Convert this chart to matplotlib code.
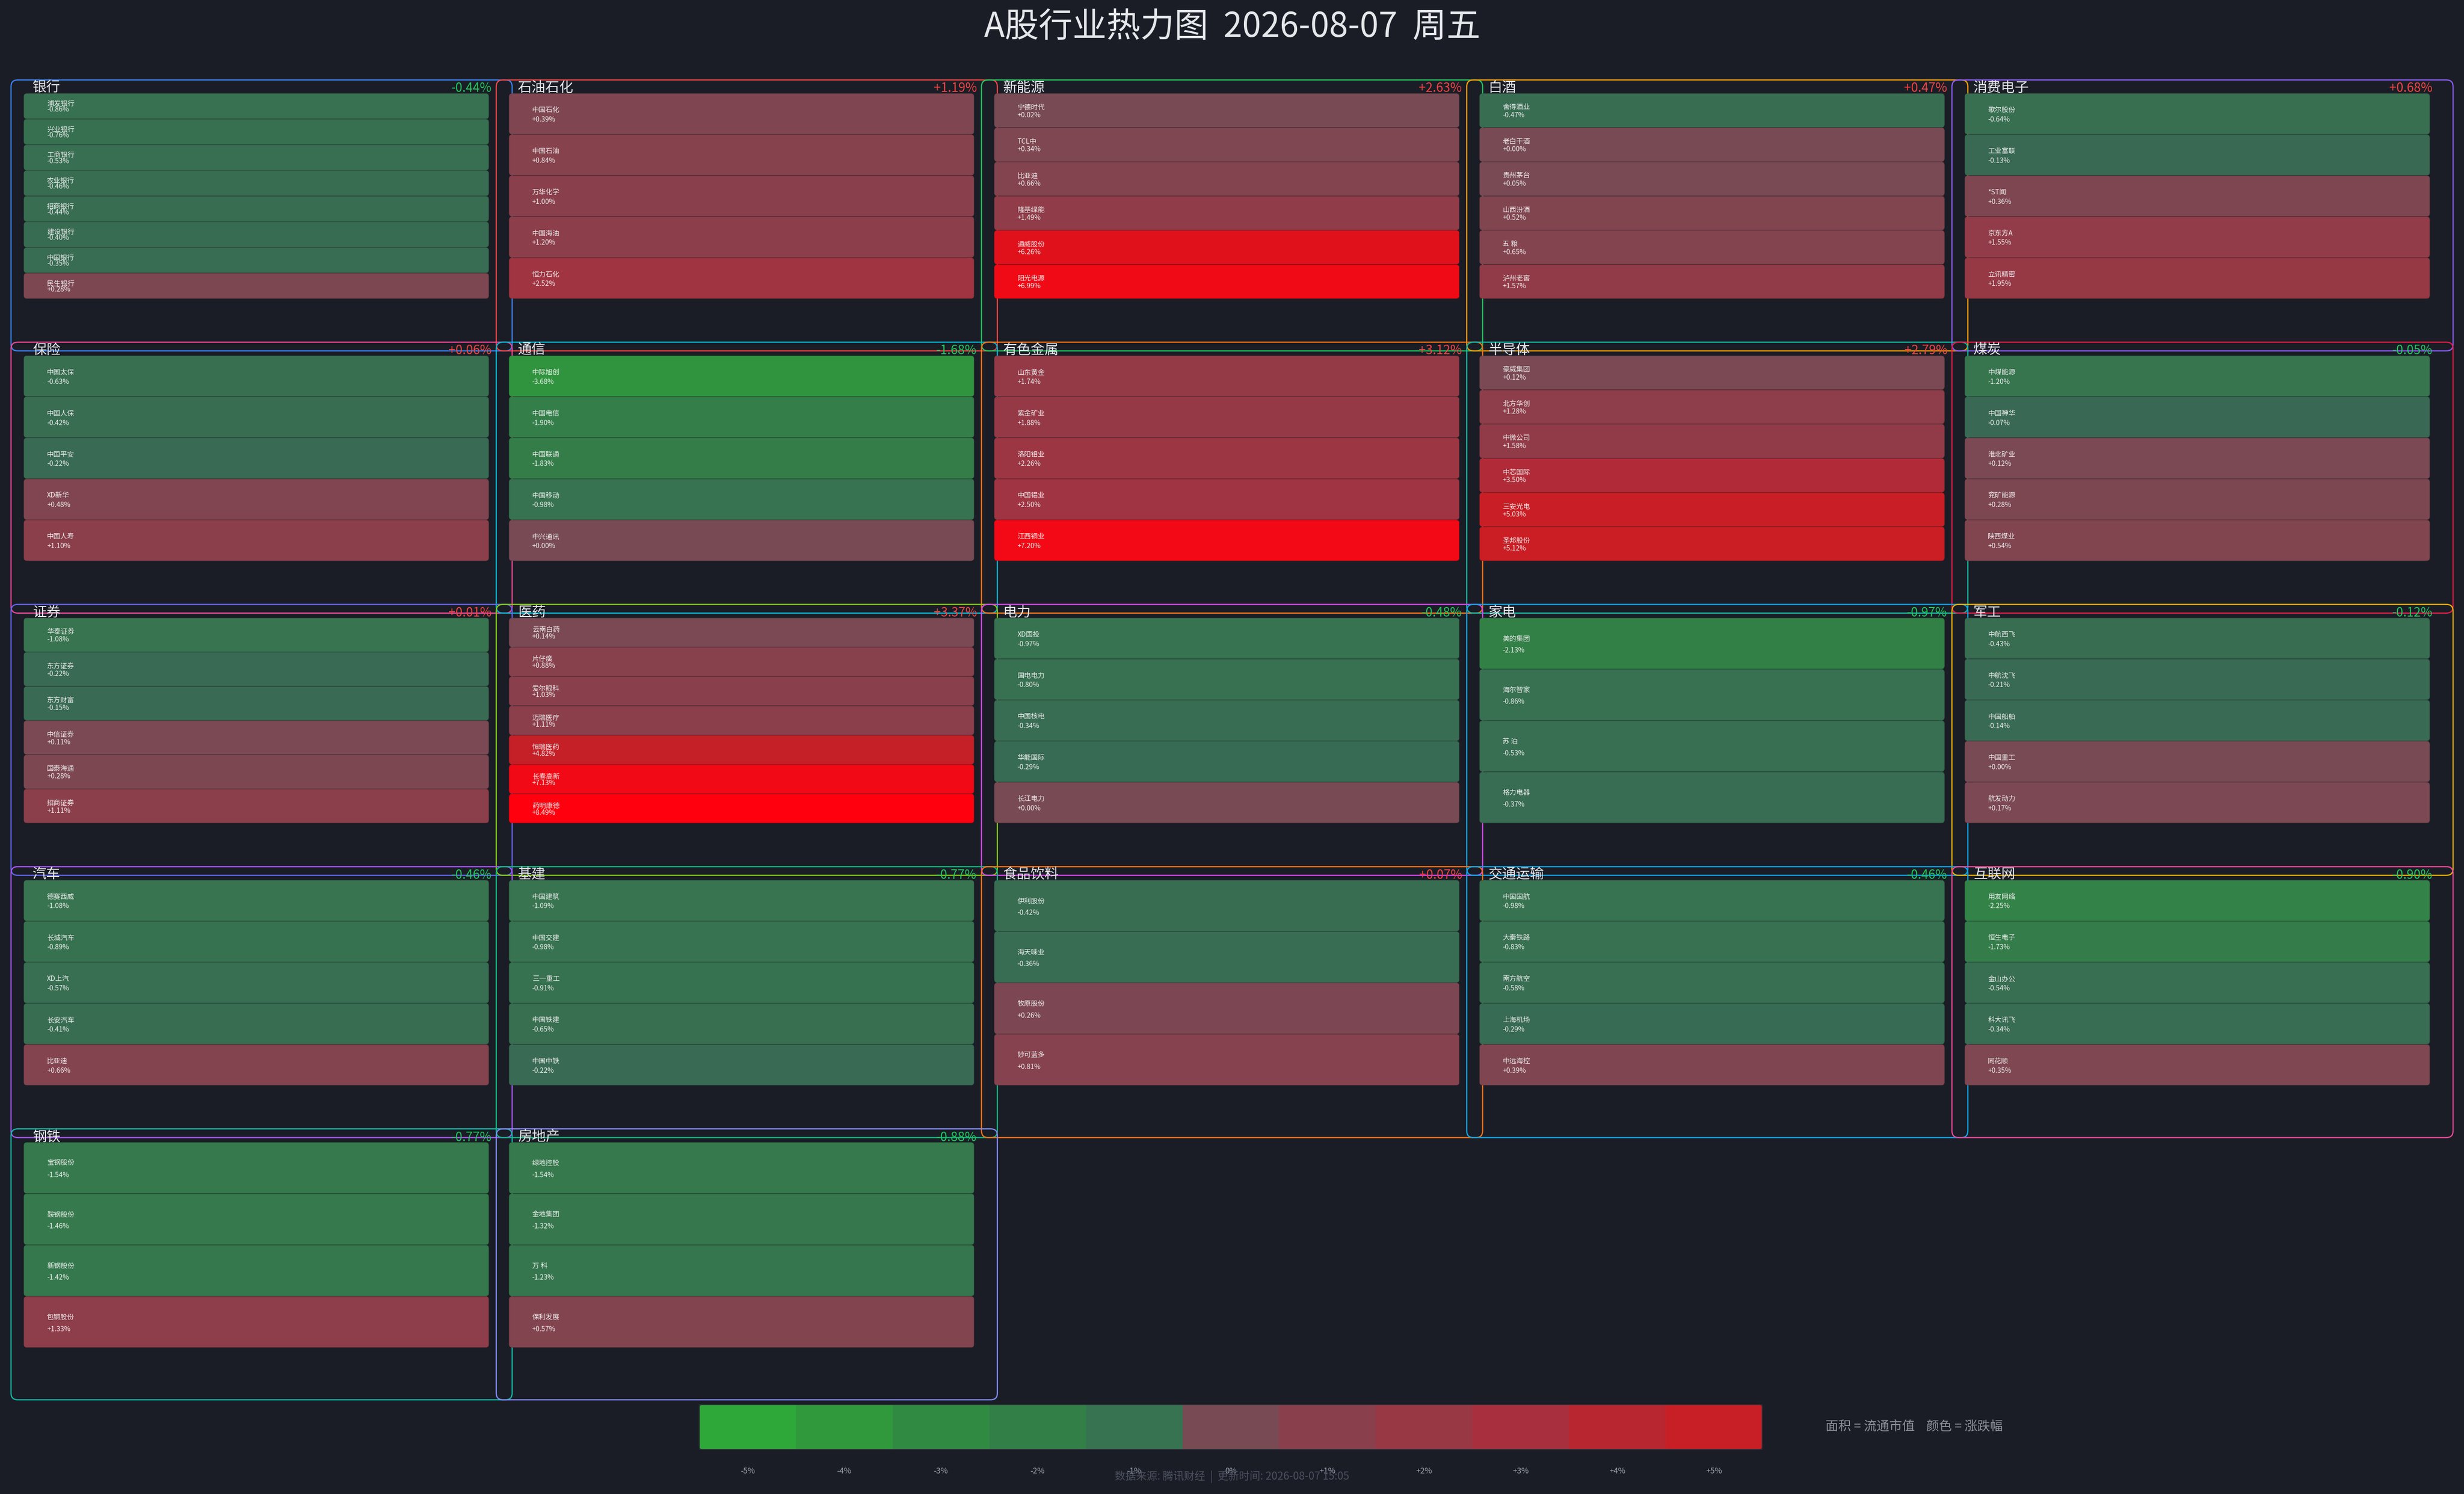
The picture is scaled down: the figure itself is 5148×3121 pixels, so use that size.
import matplotlib
matplotlib.use('Agg')
import matplotlib.pyplot as plt
from matplotlib.patches import FancyBboxPatch, Rectangle
import numpy as np

plt.rcParams['font.family'] = ['Noto Sans CJK SC', 'DejaVu Sans']

# ---------------- data ----------------
TITLE = 'A股行业热力图  2026-08-07  周五'

SECTORS = ['银行', '石油石化', '新能源', '白酒', '消费电子',
           '保险', '通信', '有色金属', '半导体', '煤炭',
           '证券', '医药', '电力', '家电', '军工',
           '汽车', '基建', '食品饮料', '交通运输', '互联网',
           '钢铁', '房地产']

SECTOR_PCT = [-0.44, 1.19, 2.63, 0.47, 0.68,
              0.06, -1.68, 3.12, 2.79, -0.05,
              0.01, 3.37, -0.48, -0.97, -0.12,
              -0.46, -0.77, 0.07, -0.46, -0.90,
              -0.77, -0.88]

STOCKS = [
    ['浦发银行', '兴业银行', '工商银行', '农业银行', '招商银行', '建设银行', '中国银行', '民生银行'],
    ['中国石化', '中国石油', '万华化学', '中国海油', '恒力石化'],
    ['宁德时代', 'TCL中', '比亚迪', '隆基绿能', '通威股份', '阳光电源'],
    ['舍得酒业', '老白干酒', '贵州茅台', '山西汾酒', '五 粮', '泸州老窖'],
    ['歌尔股份', '工业富联', '*ST闻', '京东方A', '立讯精密'],
    ['中国太保', '中国人保', '中国平安', 'XD新华', '中国人寿'],
    ['中际旭创', '中国电信', '中国联通', '中国移动', '中兴通讯'],
    ['山东黄金', '紫金矿业', '洛阳钼业', '中国铝业', '江西铜业'],
    ['豪威集团', '北方华创', '中微公司', '中芯国际', '三安光电', '圣邦股份'],
    ['中煤能源', '中国神华', '淮北矿业', '兖矿能源', '陕西煤业'],
    ['华泰证券', '东方证券', '东方财富', '中信证券', '国泰海通', '招商证券'],
    ['云南白药', '片仔癀', '爱尔眼科', '迈瑞医疗', '恒瑞医药', '长春高新', '药明康德'],
    ['XD国投', '国电电力', '中国核电', '华能国际', '长江电力'],
    ['美的集团', '海尔智家', '苏 泊', '格力电器'],
    ['中航西飞', '中航沈飞', '中国船舶', '中国重工', '航发动力'],
    ['德赛西威', '长城汽车', 'XD上汽', '长安汽车', '比亚迪'],
    ['中国建筑', '中国交建', '三一重工', '中国铁建', '中国中铁'],
    ['伊利股份', '海天味业', '牧原股份', '妙可蓝多'],
    ['中国国航', '大秦铁路', '南方航空', '上海机场', '中远海控'],
    ['用友网络', '恒生电子', '金山办公', '科大讯飞', '同花顺'],
    ['宝钢股份', '鞍钢股份', '新钢股份', '包钢股份'],
    ['绿地控股', '金地集团', '万 科', '保利发展'],
]

STOCK_PCT = [
    [-0.86, -0.76, -0.53, -0.46, -0.44, -0.40, -0.35, 0.28],
    [0.39, 0.84, 1.00, 1.20, 2.52],
    [0.02, 0.34, 0.66, 1.49, 6.26, 6.99],
    [-0.47, 0.00, 0.05, 0.52, 0.65, 1.57],
    [-0.64, -0.13, 0.36, 1.55, 1.95],
    [-0.63, -0.42, -0.22, 0.48, 1.10],
    [-3.68, -1.90, -1.83, -0.98, 0.00],
    [1.74, 1.88, 2.26, 2.50, 7.20],
    [0.12, 1.28, 1.58, 3.50, 5.03, 5.12],
    [-1.20, -0.07, 0.12, 0.28, 0.54],
    [-1.08, -0.22, -0.15, 0.11, 0.28, 1.11],
    [0.14, 0.88, 1.03, 1.11, 4.82, 7.13, 8.49],
    [-0.97, -0.80, -0.34, -0.29, 0.00],
    [-2.13, -0.86, -0.53, -0.37],
    [-0.43, -0.21, -0.14, 0.00, 0.17],
    [-1.08, -0.89, -0.57, -0.41, 0.66],
    [-1.09, -0.98, -0.91, -0.65, -0.22],
    [-0.42, -0.36, 0.26, 0.81],
    [-0.98, -0.83, -0.58, -0.29, 0.39],
    [-2.25, -1.73, -0.54, -0.34, 0.35],
    [-1.54, -1.46, -1.42, 1.33],
    [-1.54, -1.32, -1.23, 0.57],
]

SCALE_STEPS = [-5, -4, -3, -2, -1, 0, 1, 2, 3, 4, 5]
LEGEND_TEXT = '面积 = 流通市值    颜色 = 涨跌幅'
FOOTER = '数据来源: 腾讯财经  |  更新时间: 2026-08-07 15:05'

# ---------------- style ----------------
BG = '#1a1d25'
BOX_COLORS = ['#3b82f6', '#ef4444', '#22c55e', '#f59e0b', '#8b5cf6',
              '#ec4899', '#06b6d4', '#f97316', '#14b8a6', '#e11d48',
              '#6366f1', '#84cc16', '#d946ef', '#0ea5e9', '#eab308',
              '#a855f7', '#10b981', '#f97316', '#0ea5e9', '#ec4899',
              '#14b8a6', '#818cf8']

# anchor colours for change -> tile colour
C_POS = [(0.0, (120, 74, 84)), (1.0, (137, 64, 76)), (2.0, (152, 56, 69)),
         (3.0, (168, 48, 62)), (4.0, (184, 38, 48)), (5.0, (200, 30, 37)),
         (7.0, (240, 10, 22)), (8.5, (255, 0, 15))]
C_NEG = [(0.0, (57, 104, 84)), (1.0, (55, 115, 80)), (2.0, (51, 127, 72)),
         (3.0, (49, 138, 66)), (4.0, (48, 153, 60)), (5.0, (46, 168, 56))]


def pct_color(p):
    table = C_POS if p >= 0 else C_NEG
    v = abs(p)
    xs = [a for a, _ in table]
    rgb = [np.interp(v, xs, [c[k] for _, c in table]) for k in range(3)]
    return tuple(x / 255 for x in rgb)


def fmt(p):
    return '{:+.2f}%'.format(p)


# ---------------- figure ----------------
W, H = 5148, 3121
fig = plt.figure(figsize=(W / 200, H / 200), dpi=200, facecolor=BG)
ax = fig.add_axes([0, 0, 1, 1])
ax.set_xlim(0, W)
ax.set_ylim(H, 0)
ax.axis('off')
ax.set_facecolor(BG)

ax.text(W / 2, 57, TITLE, ha='center', va='center', fontsize=25.5, color='#e5e7eb')

x0, y0 = 23, 167
pitch_x, pitch_y = 1013.8, 547.8
box_w, box_h = 1047, 566

for i, sec in enumerate(SECTORS):
    r, c = divmod(i, 5)
    bx = x0 + c * pitch_x
    by = y0 + r * pitch_y
    ax.add_patch(FancyBboxPatch((bx, by), box_w, box_h,
                                boxstyle='round,pad=0,rounding_size=14',
                                fill=False, edgecolor=BOX_COLORS[i], lw=0.9, zorder=1))

    tx, ty = bx + 27, by + 28
    tw, th = 971, 429
    names = STOCKS[i]
    vals = STOCK_PCT[i]
    n = len(names)
    h = th / n
    for j, (nm, v) in enumerate(zip(names, vals)):
        top = ty + j * h
        col = pct_color(v)
        ax.add_patch(FancyBboxPatch((tx, top + 0.6), tw, h - 1.2,
                                    boxstyle='round,pad=0,rounding_size=6',
                                    facecolor=col, edgecolor=tuple(x * 0.85 for x in col),
                                    lw=0.3, zorder=2))
        ax.text(tx + 48, top + 0.41 * h, nm, ha='left', va='center',
                fontsize=5.2, color='#eeeeee', zorder=3)
        ax.text(tx + 48, top + 0.64 * h, fmt(v), ha='left', va='center',
                fontsize=5.2, color='#eeeeee', zorder=3)

    ax.text(bx + 45, by + 17, sec, ha='left', va='center',
            fontsize=10.5, color='#e5e7eb', zorder=4)
    sp = SECTOR_PCT[i]
    ax.text(bx + 1004, by + 18, fmt(sp), ha='right', va='center', fontsize=9.5,
            color='#ef4444' if sp >= 0 else '#22c55e', zorder=4)

# colour scale
cb_x, cb_y, cb_w, cb_h = 1461, 2934, 2221, 94
seg = cb_w / len(SCALE_STEPS)
for k, s in enumerate(SCALE_STEPS):
    ax.add_patch(Rectangle((cb_x + k * seg, cb_y), seg, cb_h,
                           facecolor=pct_color(s), edgecolor='none', zorder=2))
    lab = '{:+d}%'.format(s) if s != 0 else '0%'
    ax.text(cb_x + (k + 0.5) * seg, 3073, lab, ha='center', va='center',
            fontsize=6, color='#9ca3af')
ax.add_patch(FancyBboxPatch((cb_x, cb_y), cb_w, cb_h,
                            boxstyle='round,pad=0,rounding_size=5',
                            fill=False, edgecolor='#2a2d35', lw=0.8, zorder=3))

ax.text(3814, 2980, LEGEND_TEXT, ha='left', va='center', fontsize=9.6, color='#8b8f99')
ax.text(W / 2, 3085, FOOTER, ha='center', va='center', fontsize=8, color='#4b5060')

fig.savefig('out.png', dpi=200, facecolor=BG)
